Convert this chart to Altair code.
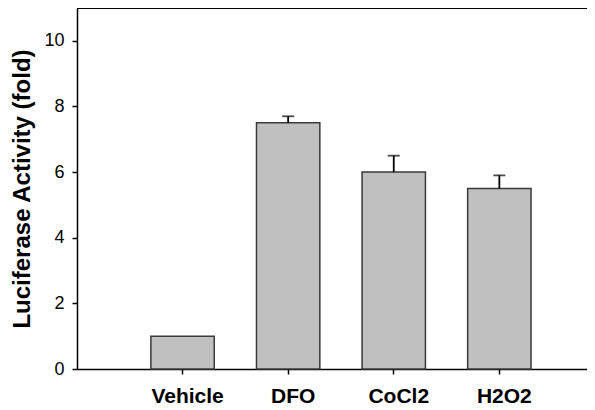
import altair as alt
import pandas as pd

categories = ["Vehicle", "DFO", "CoCl2", "H2O2"]
values = [1.0, 7.5, 6.0, 5.5]
errors = [0.0, 0.2, 0.5, 0.4]
y_ticks = [0, 2, 4, 6, 8, 10]

df = pd.DataFrame({"cat": categories, "val": values, "err": errors})
df["hi"] = df["val"] + df["err"]
df_err = df[df["err"] > 0]

FONT = "Arial, Liberation Sans, sans-serif"

x_axis = alt.Axis(
    title=None, labelAngle=0, labelAlign="center", labelBaseline="top",
    labelFont=FONT, labelFontSize=21, labelFontWeight="bold",
    labelColor="black", labelPadding=11, labelOffset=5, ticks=True,
    tickSize=5, tickColor="black", tickWidth=1.5, tickBand="center",
    domainColor="black", domainWidth=1.5,
)
x_scale = alt.Scale(paddingInner=0.4, paddingOuter=0.615, align=0.569)
x = alt.X("cat:N", sort=categories, scale=x_scale, axis=x_axis)

y_scale = alt.Scale(domain=[0, 11], nice=False)
y_axis = alt.Axis(
    values=y_ticks, title="Luciferase Activity (fold)", titleFont=FONT,
    titleFontSize=24, titleFontWeight="bold", titleColor="black",
    titlePadding=9, labelFont=FONT, labelFontSize=18, labelColor="black",
    labelPadding=8, ticks=True, tickSize=5, tickColor="black", tickWidth=1.5,
    domainColor="black", domainWidth=1.5, grid=False,
)

def Y(field):
    return alt.Y(field, scale=y_scale, axis=y_axis)

bars = alt.Chart(df).mark_bar(
    color="#c0c0c0", stroke="#3a3a3a", strokeWidth=1.5
).encode(x=x, y=Y("val:Q"))

stems = alt.Chart(df_err).mark_rule(color="black", strokeWidth=1.8).encode(
    x=x, y=Y("val:Q"), y2="hi:Q"
)
caps = alt.Chart(df_err).mark_tick(
    orient="horizontal", size=12, thickness=1.8, color="black"
).encode(x=x, y=Y("hi:Q"))

top = alt.Chart(pd.DataFrame({"v": [11]})).mark_rule(
    color="black", strokeWidth=2
).encode(y=Y("v:Q"))

chart = alt.layer(bars, stems, caps, top).properties(
    width=510, height=361,
    autosize=alt.AutoSizeParams(type="none"),
    padding={"left": 69, "top": 0, "right": 0, "bottom": 37},
).configure_view(stroke=None).configure_axis(grid=False)

chart.save("out.html", embed_options={"renderer": "svg", "actions": False})
